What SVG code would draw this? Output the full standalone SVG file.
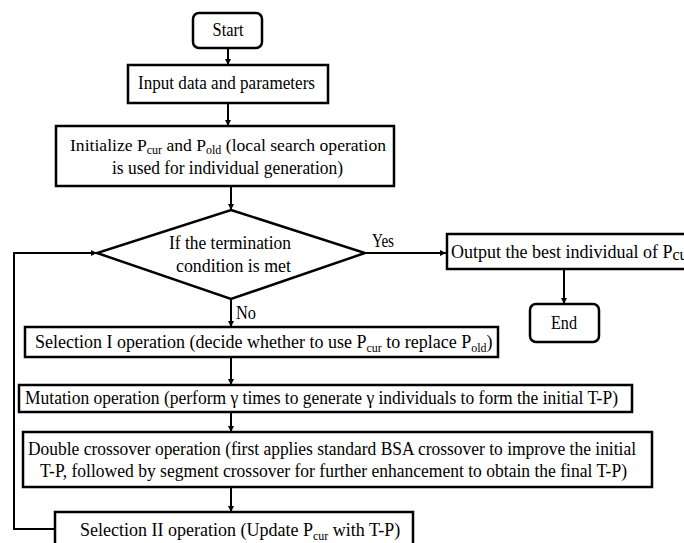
<svg xmlns="http://www.w3.org/2000/svg" width="684" height="543" viewBox="0 0 684 543">
<defs>
<marker id="ah" viewBox="0 0 10 10" refX="10" refY="5" markerWidth="6" markerHeight="6" orient="auto" markerUnits="userSpaceOnUse">
<path d="M0,0 L10,5 L0,10 z" fill="#000"/>
</marker>
<style>
.box{fill:#fff;stroke:#000;stroke-width:2.5}
text{font-family:'Liberation Serif','Times New Roman',serif;font-size:18px;fill:#000}
.s{font-size:12px}
.c{fill:none;stroke:#000;stroke-width:2;marker-end:url(#ah)}
</style>
</defs>
<rect width="684" height="543" fill="#fff"/>
<g font-family="Liberation Serif, Times New Roman, serif">
<g id="connectors">
<line class="c" x1="228" y1="48" x2="228" y2="65"/>
<line class="c" x1="228" y1="103" x2="228" y2="126"/>
<line class="c" x1="231" y1="186" x2="231" y2="210"/>
<line class="c" x1="365" y1="253" x2="446" y2="253"/>
<line class="c" x1="564" y1="269" x2="564" y2="304"/>
<line class="c" x1="231" y1="299" x2="231" y2="327"/>
<line class="c" x1="231" y1="357" x2="231" y2="385"/>
<line class="c" x1="231" y1="412" x2="231" y2="432"/>
<line class="c" x1="231" y1="487" x2="231" y2="512"/>
<path class="c" d="M55,529 H14 V253 H97"/>
<text x="372" y="247" textLength="22" lengthAdjust="spacingAndGlyphs">Yes</text>
<text x="236" y="319" textLength="20" lengthAdjust="spacingAndGlyphs">No</text>
</g>
<g id="start">
<rect class="box" x="193" y="13" width="69" height="35" rx="6"/>
<text x="228" y="36" text-anchor="middle" textLength="31" lengthAdjust="spacingAndGlyphs">Start</text>
</g>
<g id="input">
<rect class="box" x="128" y="65" width="200" height="38"/>
<text x="138" y="89" textLength="177" lengthAdjust="spacingAndGlyphs">Input data and parameters</text>
</g>
<g id="initialize">
<rect class="box" x="56" y="126" width="338" height="60"/>
<text x="70" y="151" style="font-size:17.6px">Initialize  P<tspan class="s" dy="3">cur</tspan><tspan dy="-3"> and P</tspan><tspan class="s" dy="3">old</tspan><tspan dy="-3"> (local search operation</tspan></text>
<text x="112" y="174" textLength="231" lengthAdjust="spacingAndGlyphs">is used for individual  generation)</text>
</g>
<g id="decision">
<polygon class="box" points="231,210 365,253 231,299 97,253"/>
<text x="169" y="249" textLength="122" lengthAdjust="spacingAndGlyphs">If the termination</text>
<text x="176" y="272" textLength="115" lengthAdjust="spacingAndGlyphs">condition  is met</text>
</g>
<g id="output">
<rect class="box" x="447" y="234" width="260" height="35"/>
<text x="451" y="258">Output  the best individual  of P<tspan style="font-size:16px" dy="2">cur</tspan></text>
</g>
<g id="end">
<rect class="box" x="530" y="304" width="69" height="38" rx="6"/>
<text x="564" y="329" text-anchor="middle" textLength="26" lengthAdjust="spacingAndGlyphs">End</text>
</g>
<g id="selection1">
<rect class="box" x="25" y="327" width="473" height="30"/>
<text x="35" y="348">Selection  I operation  (decide  whether  to use  P<tspan class="s" dy="4">cur</tspan><tspan dy="-4"> to replace  P</tspan><tspan class="s" dy="4">old</tspan><tspan dy="-4">)</tspan></text>
</g>
<g id="mutation">
<rect class="box" x="19" y="385" width="613" height="27"/>
<text x="25" y="404" textLength="593" lengthAdjust="spacingAndGlyphs">Mutation  operation  (perform γ times to generate γ  individuals to form the initial T-P)</text>
</g>
<g id="crossover">
<rect class="box" x="23" y="432" width="629" height="55"/>
<text x="28" y="455" textLength="608" lengthAdjust="spacingAndGlyphs">Double crossover operation  (first applies standard BSA crossover to improve the initial</text>
<text x="40" y="477" textLength="587" lengthAdjust="spacingAndGlyphs">T-P, followed by segment crossover for further enhancement to obtain the final T-P)</text>
</g>
<g id="selection2">
<rect class="box" x="55" y="512" width="358" height="50"/>
<text x="80" y="536">Selection  II operation  (Update  P<tspan class="s" dy="4">cur</tspan><tspan dy="-4">  with T-P)</tspan></text>
</g>
</g>
</svg>
